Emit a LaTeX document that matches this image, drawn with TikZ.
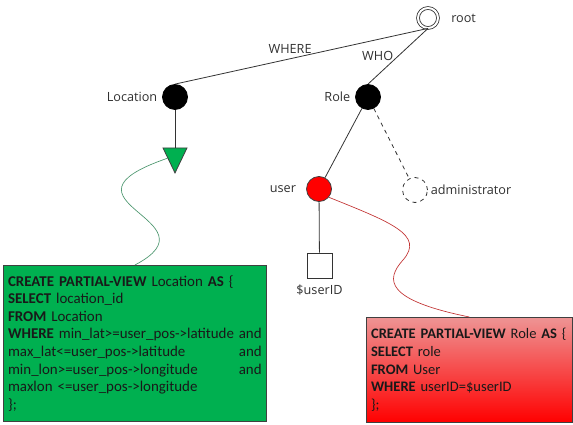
\documentclass[tikz,border=0pt]{standalone}
\usepackage{fontspec}
\setmainfont{Carlito}
\newfontfamily\tagfont{Open Sans}
\usetikzlibrary{shapes.geometric,positioning}
\definecolor{viewgreen}{HTML}{00B050}
\definecolor{viewred}{HTML}{FF0000}
\definecolor{viewpink}{HTML}{EE9494}
\definecolor{ink}{HTML}{303030}
\definecolor{rim}{HTML}{404040}

\begin{document}
\begin{tikzpicture}[x=0.75pt,y=-0.75pt,line width=0.6pt,
 tag/.style={font=\tagfont\fontsize{9.5}{11}\selectfont,text=ink},
 vertex/.style={circle,draw=black,fill=black,minimum size=18.75pt,inner sep=0pt},
 link/.style={draw=black!80},
 view/.style={draw=rim,anchor=north west,align=left,inner xsep=3.5pt,font=\fontsize{11.2}{13.2}\selectfont,text=black!90},
 wave/.style={line width=0.5pt}]
 \useasboundingbox (0,0) rectangle (573,424);
 % tree
 \node[circle,draw=black!80,fill=white,double,double distance=1.5pt,minimum size=15pt,inner sep=0pt] (root) at (428,18) {};
 \node[tag,right=6pt of root] {root};
 \node[vertex] (loc) at (175,97) {};
 \node[tag,left=0pt of loc] {Location};
 \node[vertex] (role) at (368,97) {};
 \node[tag,left=0pt of role] {Role};
 \draw[link] (root.south)--node[tag,pos=0.545,above]{WHERE}(loc.north);
 \draw[link] (root.south)--node[tag,pos=0.5,left]{WHO}(role.north);
 \node[isosceles triangle,isosceles triangle apex angle=52,isosceles triangle stretches,shape border rotate=270,draw=rim,fill=viewgreen,minimum width=18pt,minimum height=18.75pt,inner sep=0pt] (tri) at (175,155.5) {};
 \draw[link] (loc)--(tri);
 \node[vertex,fill=viewred,draw=rim] (user) at (319,189) {};
 \node[tag,left=4pt of user] {user};
 \node[vertex,fill=white,draw=black!80,dashed] (admin) at (415,190) {};
 \node[tag,right=-1.5pt of admin] {administrator};
 \draw[link] (role)--(user);
 \draw[link,dashed] (role)--(admin);
 \node[draw=black!80,fill=white,minimum size=18.75pt,inner sep=0pt] (uid) at (319.5,265.5) {};
 \node[tag,below=1pt of uid] {\$userID};
 \draw[link] (user)--(uid);
 % views
 \node[view,fill=viewgreen,minimum width=197.25pt,minimum height=117pt,text width=190.25pt] (gbox) at (3,265) {\textbf{CREATE PARTIAL-VIEW} Location \textbf{AS} \{\\
 \textbf{SELECT} location\_id\\
 \textbf{FROM} Location\\
 \textbf{WHERE}\hfill min\_lat>=user\_pos->latitude\hfill and\\
 max\_lat<=user\_pos->latitude\hfill and\\
 min\_lon>=user\_pos->longitude\hfill and\\
 maxlon <=user\_pos->longitude\\
 \};};
 \node[view,top color=viewpink,bottom color=viewred,font=\fontsize{10.9}{13.2}\selectfont,minimum width=154.5pt,minimum height=78.75pt,text width=147.5pt] (rbox) at (366,317) {\textbf{CREATE PARTIAL-VIEW} Role \textbf{AS} \{\\
 \textbf{SELECT} role\\
 \textbf{FROM} User\\
 \textbf{WHERE} userID=\$userID\\
 \};};
 \coordinate (rmid) at (403,260);
 \draw[wave,draw=viewgreen!60!black!70] (tri.200) .. controls +(-125,43) and +(86,-45) .. (gbox.north);
 \draw[wave,draw=red!70!black!80] (user.-40) .. controls +(62,25) and +(22,-25) .. (rmid) .. controls +(-18,20) and +(-84,-17) .. (rbox.north);
\end{tikzpicture}
\end{document}
